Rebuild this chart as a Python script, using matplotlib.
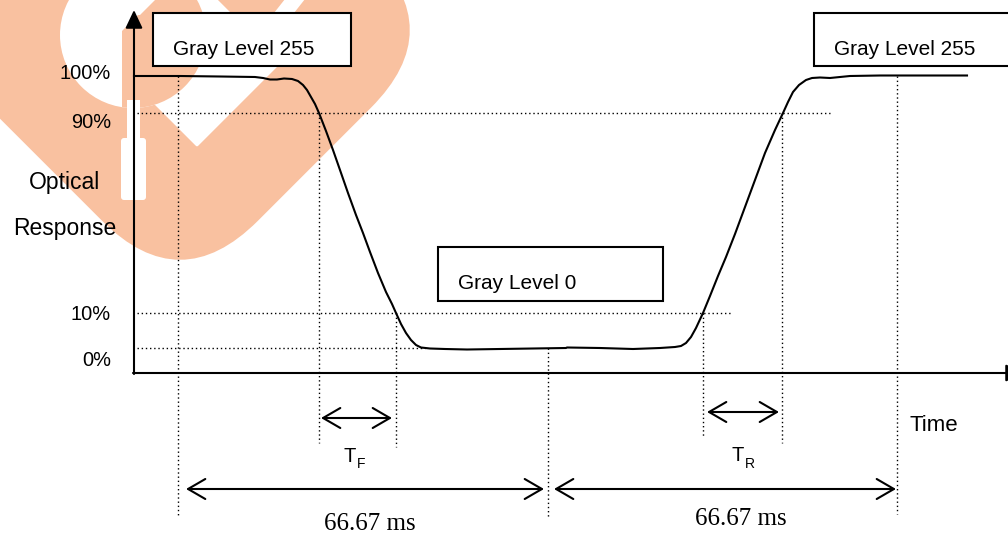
import numpy as np
import matplotlib.pyplot as plt
from matplotlib.patches import Rectangle, FancyBboxPatch, Circle, Polygon
from matplotlib.transforms import Affine2D

plt.rcParams['font.family'] = 'Liberation Sans'

# optical response curve (canvas units, y down)
curve_x = [134, 180, 220, 255, 263, 270, 277, 284, 292, 298, 303, 307, 311, 315,
           319, 326, 333, 340, 348, 356, 363, 370, 378, 386, 392, 396, 401, 406,
           411, 416, 421, 430, 445, 467, 500, 533, 566, 567, 600, 633, 660, 675,
           681, 686, 691, 696, 703, 710, 718, 726, 735, 745, 755, 765, 775, 783,
           788, 793, 799, 806, 812, 820, 830, 840, 850, 880, 920, 967]
curve_y = [76, 76, 76.5, 77, 78, 79.5, 79.5, 78.5, 79, 81, 85, 90, 97, 104,
           113, 131, 150, 170, 193, 215, 233, 252, 273, 292, 304, 313, 324, 333,
           340, 345, 347.5, 348.5, 349, 349.5, 349, 348.5, 348, 347.5, 348, 349, 348, 347,
           346, 343, 337, 328, 313, 296, 276, 257, 234, 207, 180, 153, 130, 113,
           102, 92, 85, 80, 78, 77.5, 78, 77, 76, 75.5, 75.5, 75.5]

level_names = ['100%', '90%', '10%', '0%']
level_y = [76, 113, 313, 348]
level_end = [None, 830, 731, 425]
label_y = [79, 128, 320, 366]

mark_x = [178, 319, 396, 548, 703, 782, 897]
mark_top = [76, 113, 313, 348, 313, 113, 76]
mark_bot = [517, 443, 447, 517, 438, 443, 514]

# double arrows: start, end, height
spans = [(321, 392, 418), (707, 779, 412), (186, 544, 489), (554, 896, 489)]

boxes = [(153, 13, 198, 53, 'Gray Level 255'),
         (814, 13, 210, 53, 'Gray Level 255'),
         (438, 247, 225, 54, 'Gray Level 0')]

fig = plt.figure(figsize=(10.08, 5.34), dpi=100)
ax = fig.add_axes([0, 0, 1, 1])
ax.set_xlim(0, 1008)
ax.set_ylim(534, 0)
ax.axis('off')

# watermark logo behind everything
wm = '#F9C1A0'
cx, cy, s = 180, 30, 190
rot = Affine2D().rotate_deg_around(cx, cy, 45) + ax.transData
ax.add_patch(FancyBboxPatch((cx - s, cy - s), 2 * s, 2 * s,
                            boxstyle='round,pad=0,rounding_size=110',
                            fc=wm, ec='none', transform=rot, zorder=0))
ax.add_patch(Polygon([(123, 71), (197, 145), (279, 63), (205, -11)], fc='white',
                     ec='white', lw=2, joinstyle='round', zorder=0.1))
ax.add_patch(Polygon([(300, -20), (320, -20), (294, 13), (274, 13)], fc='white',
                     ec='none', zorder=0.1))
ring = Circle((133, 35), 73, fc='white', ec='none', zorder=0.2)
ax.add_patch(ring)
band = Polygon([(122, 31), (122, 200), (320, 200), (320, -167)], fc=wm, ec='none',
               zorder=0.3)
band.set_clip_path(ring)
ax.add_patch(band)
ax.add_patch(Polygon([(133, -20), (175, -20), (140, 15), (133, 15)], fc='white',
                     ec='none', zorder=0.4, clip_path=ring))
ax.add_patch(Rectangle((127, 100), 13, 42, fc='white', ec='none', zorder=0.5))
ax.add_patch(FancyBboxPatch((121, 138), 25, 62, boxstyle='round,pad=0,rounding_size=3',
                            fc='white', ec='none', zorder=0.5))

dot = (0, (1, 2))

# level guide lines and labels
for name, y, x1, ly in zip(level_names, level_y, level_end, label_y):
    if x1 is not None:
        ax.plot([137, x1], [y, y], color='black', lw=1, ls=dot, zorder=2)
    ax.text(111, ly, name, ha='right', va='baseline', fontsize=14.4)

for x, y0, y1 in zip(mark_x, mark_top, mark_bot):
    ax.plot([x, x], [y0, y1], color='black', lw=1, ls=dot, zorder=2)

# axes with arrows
ax.annotate('', xy=(134, 10), xytext=(134, 374),
            arrowprops=dict(arrowstyle='-|>,head_length=0.55,head_width=0.26',
                            mutation_scale=20, lw=1.5, color='black',
                            shrinkA=0, shrinkB=0), zorder=3)
ax.annotate('', xy=(1024, 373), xytext=(133, 373), annotation_clip=False,
            arrowprops=dict(arrowstyle='-|>,head_length=0.55,head_width=0.26',
                            mutation_scale=20, lw=1.5, color='black',
                            shrinkA=0, shrinkB=0), zorder=3)

ax.plot(curve_x, curve_y, color='black', lw=1.5, zorder=4)

for x0, x1, y in spans:
    ax.annotate('', xy=(x1, y), xytext=(x0, y),
                arrowprops=dict(arrowstyle='<->,head_length=0.62,head_width=0.36',
                                mutation_scale=20, lw=1.5, color='black',
                                shrinkA=0, shrinkB=0), zorder=3)

for x, y, w, h, label in boxes:
    ax.add_patch(Rectangle((x, y), w, h, fc='white', ec='black', lw=1.5, zorder=3))
    base = y + 42
    t = ax.text(x + 20, base, label, ha='left', va='baseline', fontsize=15, zorder=4)
    t.set_clip_path(Rectangle((x, y), w, base - y - 0.5, transform=ax.transData))

ax.text(65, 189, 'Optical', ha='center', va='baseline', fontsize=16.5)
ax.text(65, 235, 'Response', ha='center', va='baseline', fontsize=16.5)
ax.text(910, 431, 'Time', ha='left', va='baseline', fontsize=16)

ax.text(344, 462, 'T', ha='left', va='baseline', fontsize=14.5)
ax.text(357, 468, 'F', ha='left', va='baseline', fontsize=10)
ax.text(732, 461, 'T', ha='left', va='baseline', fontsize=14.5)
ax.text(745, 468, 'R', ha='left', va='baseline', fontsize=10)

ax.text(370, 530, '66.67 ms', ha='center', va='baseline', fontsize=18,
        family='Liberation Serif')
ax.text(741, 525, '66.67 ms', ha='center', va='baseline', fontsize=18,
        family='Liberation Serif')

fig.savefig('out.png', dpi=100)
